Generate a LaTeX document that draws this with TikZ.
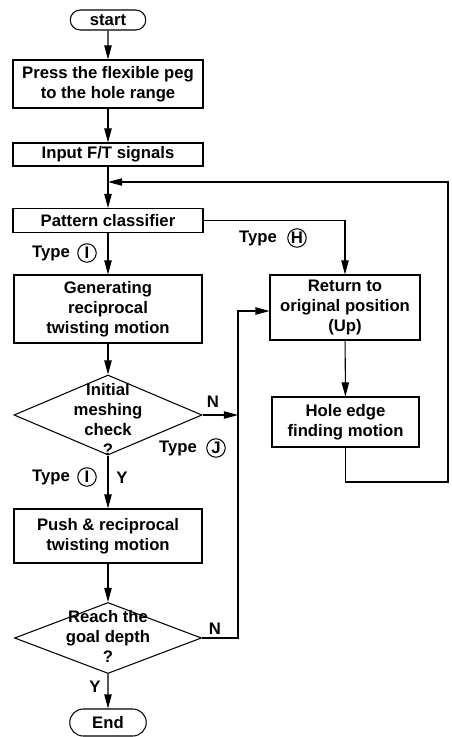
\documentclass[tikz,border=0pt]{standalone}
\usepackage{fontspec}
\setmainfont{Liberation Sans}
\usetikzlibrary{arrows.meta,shapes.geometric,shapes.misc}

\begin{document}
\begin{tikzpicture}[
    font=\fontsize{9.5}{11.4}\selectfont\bfseries,
    line width=0.6pt,
    proc/.style={rectangle, draw, align=center, inner sep=1pt},
    term/.style={rounded rectangle, draw, inner sep=1pt},
    dec/.style={diamond, draw, inner sep=0pt},
    txt/.style={align=center, inner sep=0pt},
    circ/.style={circle, draw, inner sep=0pt, minimum size=0.37cm},
    arr/.style={-{Triangle[length=8pt,width=4.2pt]}}
]
\useasboundingbox (0,0) rectangle (9.02,-14.74);
                    % Nodes
                    \node[term, minimum width=1.58cm, minimum height=0.40cm] (start) at (2.16,-0.40) {start};
                    \node[proc, minimum width=3.8cm, minimum height=0.96cm] (press) at (2.16,-1.68) {Press the flexible peg\\to the hole range};
                    \node[proc, minimum width=3.8cm, minimum height=0.46cm] (input) at (2.16,-3.09) {Input F/T signals};
                    \coordinate (join) at (2.16,-3.64);
                    \node[proc, minimum width=3.8cm, minimum height=0.48cm] (pattern) at (2.16,-4.41) {Pattern classifier};
                    \node[proc, minimum width=3.76cm, minimum height=1.36cm] (twist) at (2.16,-6.18) {Generating\\reciprocal\\twisting motion};
                    \node[dec, minimum width=3.76cm, minimum height=1.6cm] (mesh) at (2.16,-8.30) {};
                    \node[txt] (meshtxt) at (2.16,-8.38) {Initial\\meshing\\check\\?};
                    \node[proc, minimum width=3.76cm, minimum height=1.08cm] (push) at (2.16,-10.72) {Push \& reciprocal\\twisting motion};
                    \node[dec, minimum width=3.74cm, minimum height=1.42cm] (depth) at (2.16,-12.76) {};
                    \node[txt] (depthtxt) at (2.16,-12.72) {Reach the\\goal depth\\?};
                    \node[term, minimum width=1.6cm, minimum height=0.54cm] (end) at (2.16,-14.45) {End};
                    \node[proc, minimum width=3.0cm, minimum height=1.3cm] (ret) at (6.90,-6.15) {Return to\\original position\\(Up)};
                    \node[proc, minimum width=2.94cm, minimum height=1.0cm] (hole) at (6.91,-8.44) {Hole edge\\finding motion};
                    \coordinate (bus) at (4.76,-6.22);
                    \coordinate (loop) at (8.96,-9.64);
                    % Labels
                    \node[txt] (typeI) at (1.02,-5.06) {Type};
                    \node[circ] (cI) at (1.74,-5.06) {I};
                    \node[txt] (typeH) at (5.16,-4.76) {Type};
                    \node[circ] (cH) at (5.94,-4.76) {H};
                    \node[txt] (typeJ) at (3.56,-8.96) {Type};
                    \node[circ] (cJ) at (4.32,-8.96) {J};
                    \node[txt] (typeI2) at (1.02,-9.54) {Type};
                    \node[circ] (cI2) at (1.74,-9.54) {I};
                    \node[txt] (yes1) at (2.44,-9.56) {Y};
                    \node[txt] (no1) at (4.26,-8.04) {N};
                    \node[txt] (no2) at (4.30,-12.58) {N};
                    \node[txt] (yes2) at (1.90,-13.74) {Y};
                    % Edges
                    \draw[arr] (start) -- (press);
                    \draw[arr] (press) -- (input);
                    \draw[arr] (input) -- (pattern);
                    \draw[arr] (pattern) -- (twist);
                    \draw[arr] (pattern.east) -| (ret.north);
                    \draw[arr] (twist) -- (mesh);
                    \draw[arr] (mesh.east) -- (mesh.east -| bus);
                    \draw[arr] (mesh) -- (push);
                    \draw[arr] (push) -- (depth);
                    \draw[arr] (depth) -- (end);
                    \draw[arr] (depth.east) -| (bus) -- (bus -| ret.west);
                    \draw[arr] (ret) -- (hole);
                    \draw[arr] (hole.south) |- (loop) |- (join);
\end{tikzpicture}
\end{document}
